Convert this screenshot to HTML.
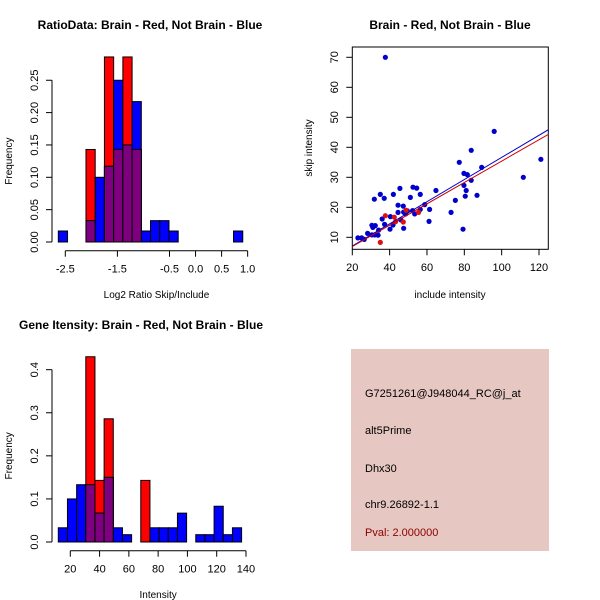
<!DOCTYPE html>
<html><head><meta charset="utf-8"><style>
html,body{margin:0;padding:0;background:#fff;}
svg{display:block;font-family:"Liberation Sans",sans-serif;}
</style></head><body>
<svg id="c" width="600" height="600" viewBox="0 0 600 600" xmlns="http://www.w3.org/2000/svg">
<rect x="0" y="0" width="600" height="600" fill="#fff"/>
<text x="150" y="29" text-anchor="middle" font-size="12" font-weight="bold">RatioData: Brain - Red, Not Brain - Blue</text>
<text x="450" y="29" text-anchor="middle" font-size="12" font-weight="bold">Brain - Red, Not Brain - Blue</text>
<text x="141" y="329" text-anchor="middle" font-size="12" font-weight="bold">Gene Itensity: Brain - Red, Not Brain - Blue</text>
<g>
<rect x="351" y="349" width="198" height="202" fill="#E6C7C1"/>
<text x="365" y="397" font-size="11">G7251261@J948044_RC@j_at</text>
<text x="365" y="434" font-size="11">alt5Prime</text>
<text x="365" y="472" font-size="11">Dhx30</text>
<text x="365" y="508" font-size="11">chr9.26892-1.1</text>
<text x="365" y="536" font-size="11" fill="#8B0000">Pval: 2.000000</text>
</g>
</svg>
<script>
// ---- ratio histogram data ----
const ratioBinStart = -2.634, ratioBinWidth = 0.177;
const ratioRed  = [0,0,0,0.143,0,0.286,0.143,0.286,0.143,0,0,0,0,0,0,0,0,0,0,0];
const ratioBlue = [0.017,0,0,0.033,0.10,0.117,0.25,0.15,0.217,0.017,0.033,0.033,0.017,0,0,0,0,0,0,0.017];
const ratioXTicks = [-2.5,-1.5,-0.5,0.0,0.5,1.0];
const ratioXLabels = ["-2.5","-1.5","-0.5","0.0","0.5","1.0"];
const ratioYTicks = [0,0.05,0.10,0.15,0.20,0.25];
const ratioYLabels = ["0.00","0.05","0.10","0.15","0.20","0.25"];
// ---- intensity histogram data ----
const intBinStart = 11.8, intBinWidth = 6.26;
const intRed  = [0,0,0,0.43,0.143,0.286,0,0,0,0.143,0,0,0,0,0,0,0,0,0,0];
const intBlue = [0.033,0.10,0.133,0.133,0.067,0.15,0.033,0.017,0,0,0.033,0.033,0.033,0.067,0,0.017,0.017,0.083,0.017,0.033];
const intXTicks = [20,40,60,80,100,120,140];
const intYTicks = [0,0.1,0.2,0.3,0.4];
const intYLabels = ["0.0","0.1","0.2","0.3","0.4"];
// ---- scatter data ----
const blueX = [37.7,96,83.7,121,77.3,89.3,79.8,81.6,111.6,83.7,79.8,81,80.5,86.8,75.2,72.9,79.3,64.8,61.4,61.1,56.4,52.5,54.5,45.5,51.1,42,35,37.1,31.8,44.5,47.3,58.8,56.4,44.5,47.5,49.5,53.4,52.3,48.6,47.5,40.4,36,46,37.3,41.8,40.2,30.5,32.3,31,34.1,32.1,33.8,30.5,28.2,23,25,26.4];
const blueY = [70,45.3,39,36,35,33.3,31.3,30.9,30,29,27.3,25.6,23.7,24,22.3,18.3,12.7,25.6,19.3,15.3,24.3,26.7,26.4,26.3,23.3,24.3,24.3,23,22.7,20.7,20.4,20.9,19.3,18.3,18.4,18.8,17.8,18.9,17.8,13,16.9,16.1,15.8,14.3,14.1,12.7,14,13.9,13.3,12.4,10.8,10.7,10.8,11.3,9.8,9.8,9.3];
const redX = [35,37.7,42.5,43.2,47.3,48.8,55.5];
const redY = [8.3,17.2,16.7,15.2,15.1,19,18.3];
const blueFit = [-0.27,0.369];
const redFit = [-0.2,0.356];
const scXTicks = [20,40,60,80,100,120];
const scYTicks = [10,20,30,40,50,60,70];

const NS="http://www.w3.org/2000/svg", svg=document.getElementById('c');
function el(tag,attrs,parent){const e=document.createElementNS(NS,tag);for(const k in attrs)e.setAttribute(k,attrs[k]);(parent||svg).appendChild(e);return e;}
function txt(x,y,s,attrs,parent){const t=el('text',Object.assign({x:x,y:y,'font-size':11,'text-anchor':'middle'},attrs||{}),parent);t.textContent=s;return t;}

function histogram(name,g0,binStart,binW,red,blue,sx,sy,xTicks,xLabels,yTicks,yLabels,yAxisX,xAxisY,xTitle,xTitleY){
  const g=el('g',{});
  
  
  for(let i=0;i<red.length;i++){
    const x0=sx(binStart+i*binW), x1=sx(binStart+(i+1)*binW);
    const r=red[i], b=blue[i];
    const bars=[];
    if(r>0)bars.push([r,'#FF0000','red']);
    if(b>0)bars.push([b,'#0000FF','blue']);
    bars.sort((a,c)=>c[0]-a[0]);
    for(const [v,col,nm] of bars){
      const rc=el('rect',{x:x0,y:sy(v),width:x1-x0,height:sy(0)-sy(v),fill:col,stroke:'#000','stroke-width':1},g);
      
      
    }
    if(r>0&&b>0){
      const m=Math.min(r,b);
      const rc=el('rect',{x:x0,y:sy(m),width:x1-x0,height:sy(0)-sy(m),fill:'#7F007F',stroke:'#000','stroke-width':1},g);
      
      
    }
  }
  // x axis
  const xa=el('g',{},g);
  
  
  el('line',{x1:sx(xTicks[0]),x2:sx(xTicks[xTicks.length-1]),y1:xAxisY,y2:xAxisY,stroke:'#000'},xa);
  xTicks.forEach((t,i)=>{el('line',{x1:sx(t),x2:sx(t),y1:xAxisY,y2:xAxisY+6,stroke:'#000'},xa);
    const l=txt(sx(t),xAxisY+22,xLabels[i],{},xa);
    
    });
  const ya=el('g',{},g);
  
  
  el('line',{x1:yAxisX,x2:yAxisX,y1:sy(yTicks[0]),y2:sy(yTicks[yTicks.length-1]),stroke:'#000'},ya);
  yTicks.forEach((t,i)=>{el('line',{x1:yAxisX,x2:yAxisX-6,y1:sy(t),y2:sy(t),stroke:'#000'},ya);
    const l=txt(yAxisX-14,sy(t),yLabels[i],{transform:'rotate(-90 '+(yAxisX-14)+' '+sy(t)+')'},ya);
    
    });
  const xt=txt((sx(xTicks[0])+sx(xTicks[xTicks.length-1]))/2,xTitleY,xTitle,{'font-size':10},g);
  
  
  const my=(sy(yTicks[0])+sy(yTicks[yTicks.length-1]))/2;
  const yt=txt(12,my,'Frequency',{'font-size':10,transform:'rotate(-90 12 '+my+')'},g);
  
  
}
// ratio histogram axes
const rsx=v=>65.3+(v+2.5)*52.1, rsy=v=>242-v*647;
histogram('ratio-histogram',null,ratioBinStart,ratioBinWidth,ratioRed,ratioBlue,rsx,rsy,ratioXTicks,ratioXLabels,ratioYTicks,ratioYLabels,52,250.7,'Log2 Ratio Skip/Include',298);
// intensity histogram axes
const isx=v=>70.3+(v-20)*1.464, isy=v=>542-v*430.8;
histogram('intensity-histogram',null,intBinStart,intBinWidth,intRed,intBlue,isx,isy,intXTicks,intXTicks.map(String),intYTicks,intYLabels,52,550.7,'Intensity',598);

// scatter
const ssx=v=>352.3+(v-20)*1.867, ssy=v=>237.3-(v-10)*3;
const sg=el('g',{});


const box=el('rect',{x:352.3,y:47,width:196,height:202.3,fill:'none',stroke:'#000'},sg);


const cp=el('clipPath',{id:'clip'},sg);
el('rect',{x:352.3,y:47,width:196,height:202.3},cp);
blueX.forEach((x,i)=>{const p=el('circle',{cx:ssx(x),cy:ssy(blueY[i]),r:2.6,fill:'#0000CC'},sg);
  
  });
redX.forEach((x,i)=>{const p=el('circle',{cx:ssx(x),cy:ssy(redY[i]),r:2.6,fill:'#DD1111'},sg);
  
  });
[[blueFit,'#0000CC','fit-line-blue'],[redFit,'#CC0000','fit-line-red']].forEach(([f,c,n])=>{
  const l=el('line',{x1:ssx(18),y1:ssy(f[0]+f[1]*18),x2:ssx(130),y2:ssy(f[0]+f[1]*130),stroke:c,'stroke-width':1,'clip-path':'url(#clip)'},sg);
  
  });
scXTicks.forEach(t=>{el('line',{x1:ssx(t),x2:ssx(t),y1:249.3,y2:255.3,stroke:'#000'},sg);
  const l=txt(ssx(t),271,String(t),{},sg);
  
  });
scYTicks.forEach(t=>{el('line',{x1:352.3,x2:346.3,y1:ssy(t),y2:ssy(t),stroke:'#000'},sg);
  const l=txt(338,ssy(t),String(t),{transform:'rotate(-90 338 '+ssy(t)+')'},sg);
  
  });
const sxt=txt(450,298,'include intensity',{'font-size':10},sg);


const syt=txt(312,148,'skip intensity',{'font-size':10,transform:'rotate(-90 312 148)'},sg);


</script>
</body></html>
